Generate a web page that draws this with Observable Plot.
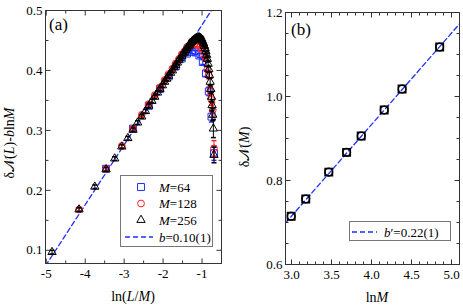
<!DOCTYPE html>
<html><head><meta charset="utf-8">
<script src="https://cdn.jsdelivr.net/npm/d3@7"></script>
<script src="https://cdn.jsdelivr.net/npm/@observablehq/plot@0.6"></script>
<style>
body{margin:0;background:#fff;}
#wrap{position:relative;width:463px;height:307px;overflow:hidden;}
#wrap svg{position:absolute;left:0;top:0;}
#wrap svg text{font-family:'Liberation Serif','Times New Roman',serif !important;}
</style></head><body><div id="wrap"></div>
<script>
// ---------- Panel (a) data: L even, x = ln(L/M) ----------
const L64 = [2,4,6,8,10,12,14,16,18,20,22,24,26,28,30,32];
const y64 = [0.236,0.303,0.341,0.369,0.390,0.407,0.420,0.428,0.431,0.430,0.425,0.414,0.395,0.365,0.323,0.262];
const e64 = [0.003,0.003,0.003,0.003,0.003,0.003,0.003,0.003,0.003,0.003,0.003,0.004,0.005,0.007,0.009,0.012];

const L128 = [2,4,6,8,10,12,14,16,18,20,22,24,26,28,30,32,34,36,38,40,42,44,46,48,50,52,54,56,58,60,62,64];
const y128 = [0.168,0.236,0.274,0.303,0.326,0.344,0.359,0.372,0.384,0.394,0.403,0.412,0.419,0.427,0.432,0.439,
              0.441,0.448,0.443,0.452,0.442,0.449,0.436,0.440,0.425,0.420,0.402,0.392,0.366,0.351,0.334,0.270];
const e128 = [0.003,0.003,0.003,0.003,0.003,0.003,0.003,0.003,0.003,0.003,0.003,0.003,0.003,0.003,0.003,0.003,
              0.003,0.003,0.003,0.003,0.003,0.003,0.003,0.003,0.003,0.004,0.005,0.006,0.007,0.009,0.012,0.013];

const L256 = [2,4,6,8,10,12,14,16,18,20,22,24,26,28,30,32,34,36,38,40,42,44,46,48,50,52,54,56,58,60,62,64,
              66,68,70,72,74,76,78,80,82,84,86,88,90,92,94,96,98,100,102,104,106,108,110,112,114,116,118,120,122,124,126,128];
const y256 = [0.097,0.168,0.206,0.235,0.253,0.273,0.287,0.301,0.313,0.323,0.332,0.341,0.349,0.356,0.363,0.369,
              0.375,0.381,0.386,0.391,0.396,0.400,0.405,0.409,0.413,0.417,0.421,0.424,0.428,0.431,0.434,0.437,
              0.440,0.442,0.445,0.447,0.449,0.451,0.452,0.453,0.454,0.455,0.455,0.455,0.454,0.453,0.451,0.448,
              0.445,0.441,0.437,0.432,0.426,0.419,0.411,0.402,0.392,0.381,0.369,0.356,0.342,0.326,0.303,0.259];
const e256 = [0.003,0.003,0.003,0.003,0.003,0.003,0.003,0.003,0.003,0.003,0.003,0.003,0.003,0.003,0.003,0.003,
              0.003,0.003,0.003,0.003,0.003,0.003,0.003,0.003,0.003,0.003,0.003,0.003,0.003,0.003,0.004,0.004,
              0.004,0.004,0.004,0.004,0.004,0.004,0.004,0.004,0.004,0.004,0.004,0.004,0.004,0.004,0.004,0.004,
              0.004,0.004,0.005,0.005,0.005,0.005,0.005,0.005,0.005,0.006,0.007,0.008,0.009,0.010,0.015,0.013];

const fitA = {slope: 0.10, intercept: 0.576};
const legendA = ["M=64", "M=128", "M=256", "b=0.10(1)"];

// ---------- Panel (b) data ----------
const Mb = [20,24,32,40,48,64,80,128];
const yb = [0.715,0.756,0.820,0.867,0.906,0.968,1.018,1.118];
const fitB = {slope: 0.218, intercept: 0.061};

// ---------- axes ----------
const xDomA = [-5.02, -0.5], yDomA = [0.078, 0.5];
const xMajA = [-5,-4,-3,-2,-1], xMinA = [-4.5,-3.5,-2.5,-1.5];
const yMajA = [0.1,0.2,0.3,0.4,0.5], yMinA = [0.15,0.25,0.35,0.45];
const xDomB = [2.925, 5.1], yDomB = [0.6, 1.2];
const xMajB = [3.0,3.5,4.0,4.5,5.0], xMinB = [3.1,3.2,3.3,3.4,3.6,3.7,3.8,3.9,4.1,4.2,4.3,4.4,4.6,4.7,4.8,4.9,5.1];
const yMajB = [0.6,0.8,1.0,1.2], yMinB = [0.65,0.7,0.75,0.85,0.9,0.95,1.05,1.1,1.15];

const FONT = "Liberation Serif";
const BLUE = "#1f2fff", RED = "#ff1f1f", BLACK = "#000", FRAME = "#333";
const W = 463, H = 307;

const seg = (x1,y1,x2,y2) => ({draw(ctx){ctx.moveTo(x1,y1); ctx.lineTo(x2,y2);}});
const cap = seg(-2.5,0,2.5,0);

function frameTicks(xMaj, xMin, yMaj, yMin){
  const o = {stroke: FRAME, fill: "none", r: 1, strokeWidth: 1};
  return [
    Plot.dot(xMaj, {...o, x: d=>d, frameAnchor: "bottom", symbol: seg(0,0,0,-5)}),
    Plot.dot(xMaj, {...o, x: d=>d, frameAnchor: "top", symbol: seg(0,0,0,5)}),
    Plot.dot(xMin, {...o, x: d=>d, frameAnchor: "bottom", symbol: seg(0,0,0,-3)}),
    Plot.dot(xMin, {...o, x: d=>d, frameAnchor: "top", symbol: seg(0,0,0,3)}),
    Plot.dot(yMaj, {...o, y: d=>d, frameAnchor: "left", symbol: seg(0,0,5,0)}),
    Plot.dot(yMaj, {...o, y: d=>d, frameAnchor: "right", symbol: seg(0,0,-5,0)}),
    Plot.dot(yMin, {...o, y: d=>d, frameAnchor: "left", symbol: seg(0,0,3,0)}),
    Plot.dot(yMin, {...o, y: d=>d, frameAnchor: "right", symbol: seg(0,0,-3,0)}),
    Plot.frame({stroke: FRAME, strokeWidth: 1})
  ];
}

const seriesA = [
  {M: 64, L: L64, y: y64, e: e64, symbol: "square", color: BLUE, r: 3.9},
  {M: 128, L: L128, y: y128, e: e128, symbol: "circle", color: RED, r: 3.4},
  {M: 256, L: L256, y: y256, e: e256, symbol: "triangle", color: BLACK, r: 3.1}
];

const marksA = [];
const fitLineA = xDomA.map(x => ({x, y: fitA.slope * x + fitA.intercept}));
marksA.push(Plot.line(fitLineA, {x: "x", y: "y", stroke: BLUE, strokeWidth: 1.3, strokeDasharray: "5,3", clip: true}));
for (const s of seriesA) {
  const rows = s.L.map((L, i) => ({x: Math.log(L / s.M), y: s.y[i], e: s.e[i]}));
  marksA.push(
    Plot.ruleX(rows, {x: "x", y1: d => d.y - d.e, y2: d => d.y + d.e, stroke: s.color, strokeWidth: 1}),
    Plot.dot(rows, {x: "x", y: d => d.y + d.e, symbol: cap, r: 1, stroke: s.color, fill: "none"}),
    Plot.dot(rows, {x: "x", y: d => d.y - d.e, symbol: cap, r: 1, stroke: s.color, fill: "none"}),
    Plot.dot(rows, {x: "x", y: "y", symbol: s.symbol, r: s.r, stroke: s.color, fill: "none", strokeWidth: 1})
  );
}
marksA.push(...frameTicks(xMajA, xMinA, yMajA, yMinA));
const axisText = {fontSize: 13, fontFamily: FONT, tickSize: 0, label: null};
marksA.push(
  Plot.axisX({...axisText, ticks: xMajA, tickPadding: 5, tickFormat: d => String(d)}),
  Plot.axisY({...axisText, ticks: yMajA, tickPadding: 3, tickFormat: d3.format(".1f")})
);

const plotA = Plot.plot({
  width: W, height: H,
  marginLeft: 45, marginRight: W - 221, marginTop: 10, marginBottom: H - 263,
  x: {domain: xDomA}, y: {domain: yDomA},
  style: {background: "transparent", fontFamily: FONT, fontSize: "13px", color: "#000"},
  marks: marksA
});

const rowsB = Mb.map((M, i) => ({x: Math.log(M), y: yb[i]}));
const fitLineB = xDomB.map(x => ({x, y: fitB.slope * x + fitB.intercept}));
const plotB = Plot.plot({
  width: W, height: H,
  marginLeft: 285, marginRight: W - 459, marginTop: 12, marginBottom: H - 264,
  x: {domain: xDomB}, y: {domain: yDomB},
  style: {background: "transparent", fontFamily: FONT, fontSize: "13px", color: "#000"},
  marks: [
    Plot.line(fitLineB, {x: "x", y: "y", stroke: BLUE, strokeWidth: 1.3, strokeDasharray: "5,3", clip: true}),
    Plot.dot(rowsB, {x: "x", y: "y", symbol: "square", r: 4.2, stroke: BLACK, fill: "none", strokeWidth: 1.5}),
    Plot.dot(rowsB, {x: "x", y: "y", symbol: "circle", r: 3.8, stroke: BLACK, fill: "none", strokeWidth: 1.5}),
    ...frameTicks(xMajB, xMinB, yMajB, yMinB),
    Plot.axisX({...axisText, ticks: xMajB, tickPadding: 5, tickFormat: d3.format(".1f")}),
    Plot.axisY({...axisText, ticks: yMajB, tickPadding: 3, tickFormat: d3.format(".1f")})
  ]
});

const wrap = document.getElementById("wrap");
wrap.appendChild(plotA);
wrap.appendChild(plotB);

// ---------- text helpers ----------
function rich(g, parts, attrs) {
  const t = g.append("text").attr("font-family", FONT).attr("fill", "#000").attr("text-anchor", "start");
  for (const [k, v] of Object.entries(attrs)) t.attr(k, v);
  for (const [s, it] of parts) {
    const sp = t.append("tspan").text(s);
    if (it) sp.attr("font-style", "italic");
  }
  return t;
}

const sa = d3.select(plotA);
rich(sa, [["(a)", false]], {x: 49, y: 30, "font-size": 17});
rich(sa, [["ln(", false], ["L", true], ["/", false], ["M", true], [")", false]],
     {x: 133, y: 301, "text-anchor": "middle", "font-size": 14});
rich(sa, [["δ", false], ["𝒩", false], ["(", false], ["L", true], [")-", false], ["b", true], ["ln", false], ["M", true]],
     {transform: "translate(14,143) rotate(-90)", "text-anchor": "middle", "font-size": 14});

// legend (a)
sa.append("rect").attr("x", 120.5).attr("y", 175.5).attr("width", 92).attr("height", 71)
  .attr("fill", "#fff").attr("stroke", "#777").attr("stroke-width", 1);
const legSyms = [[d3.symbolSquare, 3.9, BLUE, 187], [d3.symbolCircle, 3.4, RED, 203.5], [d3.symbolTriangle, 3.1, BLACK, 220]];
legSyms.forEach(([sym, r, c, y], i) => {
  sa.append("path").attr("d", d3.symbol(sym, Math.PI * r * r)()).attr("transform", `translate(141,${y})`)
    .attr("fill", "none").attr("stroke", c);
  const [m, rest] = legendA[i].split("=");
  rich(sa, [[m, true], ["=" + rest, false]], {x: 159, y: y + 4.5, "font-size": 13});
});
sa.append("line").attr("x1", 125).attr("x2", 153).attr("y1", 237).attr("y2", 237)
  .attr("stroke", BLUE).attr("stroke-width", 1.3).attr("stroke-dasharray", "5,3");
rich(sa, [["b", true], ["=" + legendA[3].split("=")[1], false]], {x: 159, y: 241.5, "font-size": 13});

const sb = d3.select(plotB);
rich(sb, [["(b)", false]], {x: 291, y: 35, "font-size": 17});
rich(sb, [["ln", false], ["M", true]], {x: 377, y: 302, "text-anchor": "middle", "font-size": 14});
rich(sb, [["δ", false], ["𝒩", false], ["(", false], ["M", true], [")", false]],
     {transform: "translate(249,147) rotate(-90)", "text-anchor": "middle", "font-size": 14});
sb.append("rect").attr("x", 349.5).attr("y", 221.5).attr("width", 101).attr("height", 19)
  .attr("fill", "#fff").attr("stroke", "#777").attr("stroke-width", 1);
sb.append("line").attr("x1", 352).attr("x2", 377).attr("y1", 232).attr("y2", 232)
  .attr("stroke", BLUE).attr("stroke-width", 1.3).attr("stroke-dasharray", "5,3");
rich(sb, [["b", true], ["′=0.22(1)", false]], {x: 384, y: 236.5, "font-size": 13});
</script>
</body></html>
